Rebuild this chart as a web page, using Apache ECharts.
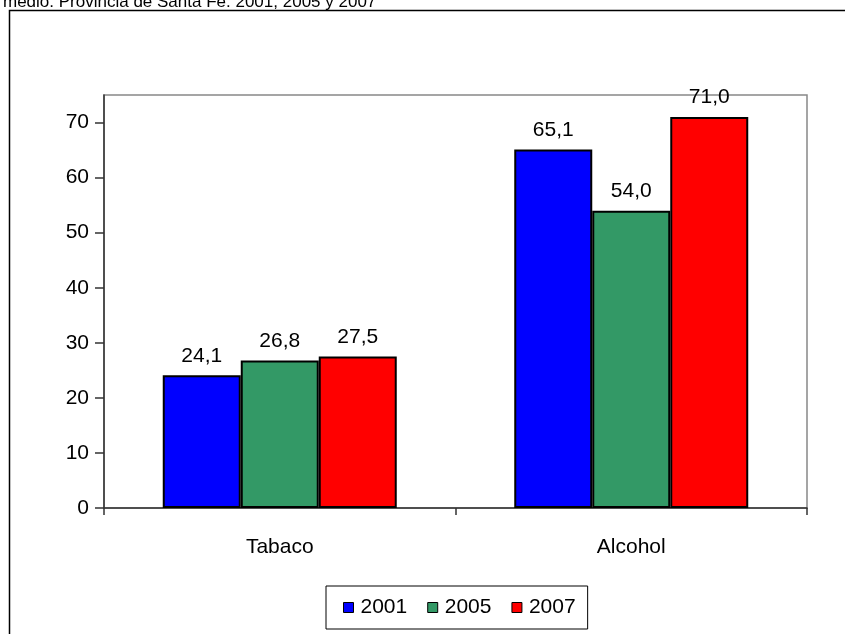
<!DOCTYPE html>
<html>
<head>
<meta charset="utf-8">
<script src="https://cdn.jsdelivr.net/npm/echarts@6/dist/echarts.min.js"></script>
<style>
html, body { margin: 0; padding: 0; background: #fff; }
#chart { width: 845px; height: 634px; }
</style>
</head>
<body>
<div id="chart"></div>
<script>
// datos
var categorias = ['Tabaco', 'Alcohol'];
var anios = ['2001', '2005', '2007'];
var valores2001 = [24.1, 65.1];
var valores2005 = [26.8, 54.0];
var valores2007 = [27.5, 71.0];
var ticksY = [0, 10, 20, 30, 40, 50, 60, 70];
var colores = ['#0000FF', '#339966', '#FF0000'];

var chart = echarts.init(document.getElementById('chart'));

function serie(nombre, datos, color) {
	return {
		name : nombre,
		type : 'bar',
		data : datos,
		barWidth : 78,
		barGap : '0%',
		itemStyle : {
			color : color,
			borderColor : '#000',
			borderWidth : 2
		},
		label : {
			show : true,
			position : 'top',
			distance : 9,
			color : '#000',
			fontFamily : 'Liberation Sans',
			fontSize : 21,
			formatter : function(p) {
				return p.value.toFixed(1).replace('.', ',');
			}
		}
	};
}

var option = {
	animation : false,
	backgroundColor : '#fff',
	title : {
		text : 'medio. Provincia de Santa Fe. 2001, 2005 y 2007',
		left : -2,
		top : -11,
		textStyle : {
			fontFamily : 'Liberation Sans',
			fontSize : 17,
			fontWeight : 'normal',
			color : '#000'
		}
	},
	graphic : [ {
		type : 'rect',
		shape : { x : 9.5, y : 10.5, width : 900, height : 700 },
		style : { fill : null, stroke : '#000', lineWidth : 1.5 },
		z : -1
	} ],
	legend : {
		data : anios,
		bottom : 5,
		left : 326,
		padding : [11, 12, 11, 17],
		itemGap : 20,
		itemWidth : 10,
		itemHeight : 10,
		icon : 'rect',
		borderColor : '#000',
		borderWidth : 1,
		itemStyle : { borderColor : '#000', borderWidth : 1 },
		textStyle : {
			fontFamily : 'Liberation Sans',
			fontSize : 21,
			color : '#000',
			padding : [0, 0, 0, 2]
		}
	},
	grid : {
		left : 104,
		right : 38,
		top : 95,
		bottom : 126,
		show : true,
		borderColor : '#888',
		borderWidth : 1.5
	},
	xAxis : {
		type : 'category',
		data : categorias,
		axisLine : { lineStyle : { color : '#333', width : 1.5 } },
		axisTick : { show : true, length : 7, lineStyle : { color : '#333', width : 1.5 } },
		axisLabel : {
			margin : 29,
			color : '#000',
			fontFamily : 'Liberation Sans',
			fontSize : 21
		}
	},
	yAxis : {
		type : 'value',
		min : 0,
		max : 75,
		interval : 10,
		splitLine : { show : false },
		axisLine : { show : true, lineStyle : { color : '#333', width : 1.5 } },
		axisTick : {
			show : true,
			length : 9,
			customValues : ticksY,
			lineStyle : { color : '#333', width : 1.5 }
		},
		axisLabel : {
			margin : 15,
			customValues : ticksY,
			color : '#000',
			fontFamily : 'Liberation Sans',
			fontSize : 21
		}
	},
	series : [
		serie(anios[0], valores2001, colores[0]),
		serie(anios[1], valores2005, colores[1]),
		serie(anios[2], valores2007, colores[2])
	]
};
chart.setOption(option);
</script>
</body>
</html>
